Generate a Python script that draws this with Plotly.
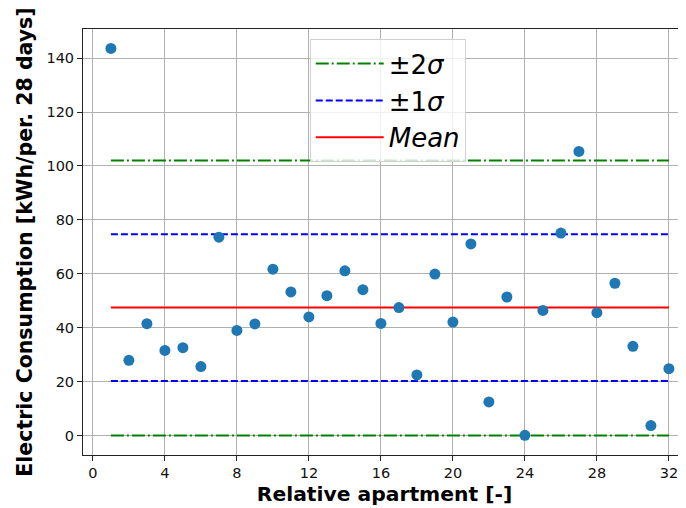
import plotly.graph_objects as go

apartments = list(range(1, 33))
consumption = [143.6, 27.9, 41.5, 31.6, 32.6, 25.6, 73.6, 39.0, 41.4, 61.7,
               53.3, 44.0, 51.9, 61.1, 54.1, 41.6, 47.5, 22.5, 59.9, 42.1,
               71.1, 12.5, 51.4, 0.1, 46.4, 75.1, 105.4, 45.6, 56.5, 33.1,
               3.7, 24.8]
mean_val = 47.5
plus_1sigma = 74.7
minus_1sigma = 20.2
plus_2sigma = 102.0
minus_2sigma = 0.0

x_ends = [apartments[0], apartments[-1]]

fig = go.Figure()
fig.add_trace(go.Scatter(x=x_ends, y=[plus_2sigma] * 2, mode="lines", name="±2<i>σ</i>",
                         line=dict(color="green", width=2, dash="13px,3px,2px,3px"),
                         legendgroup="2s"))
fig.add_trace(go.Scatter(x=x_ends, y=[minus_2sigma] * 2, mode="lines", showlegend=False,
                         line=dict(color="green", width=2, dash="13px,3px,2px,3px"),
                         legendgroup="2s"))
fig.add_trace(go.Scatter(x=x_ends, y=[plus_1sigma] * 2, mode="lines", name="±1<i>σ</i>",
                         line=dict(color="blue", width=2, dash="7px,3px"),
                         legendgroup="1s"))
fig.add_trace(go.Scatter(x=x_ends, y=[minus_1sigma] * 2, mode="lines", showlegend=False,
                         line=dict(color="blue", width=2, dash="7px,3px"),
                         legendgroup="1s"))
fig.add_trace(go.Scatter(x=x_ends, y=[mean_val] * 2, mode="lines", name="<i>Mean</i>",
                         line=dict(color="red", width=2), legendgroup="m"))
fig.add_trace(go.Scatter(x=apartments, y=consumption, mode="markers", showlegend=False,
                         marker=dict(color="#1f77b4", size=11)))

axis_common = dict(showgrid=True, gridcolor="#b0b0b0", gridwidth=1, zeroline=False,
                   showline=True, linecolor="#222", linewidth=1, ticks="outside",
                   ticklen=5, tickcolor="#222",
                   tickfont=dict(family="DejaVu Sans", size=14.5, color="#111"))

# the page body has an 8px margin, so the figure is sized/offset to compensate
fig.update_layout(
    width=678, height=500,
    margin=dict(l=75, r=0, t=21, b=53),
    plot_bgcolor="white", paper_bgcolor="white",
    font=dict(family="DejaVu Sans", color="black"),
    xaxis=dict(range=[-0.55, 32.95], tickmode="array", tickvals=list(range(0, 33, 4)),
               title=dict(text="<b>Relative apartment [-]</b>", font=dict(size=20.3), standoff=6),
               mirror=True, **axis_common),
    yaxis=dict(range=[-7.2, 150.8], tickmode="array", tickvals=list(range(0, 141, 20)),
               title=dict(text="<b>Electric Consumption [kWh/per. 28 days]</b>", font=dict(size=20.5), standoff=8),
               **axis_common),
    legend=dict(x=0.376, y=0.976, xanchor="left", yanchor="top",
                bgcolor="rgba(255,255,255,0.8)", bordercolor="#d0d0d0", borderwidth=1,
                font=dict(size=26, family="DejaVu Sans"), tracegroupgap=0,
                itemwidth=68),
    showlegend=True,
)

fig.write_html("out.html")
